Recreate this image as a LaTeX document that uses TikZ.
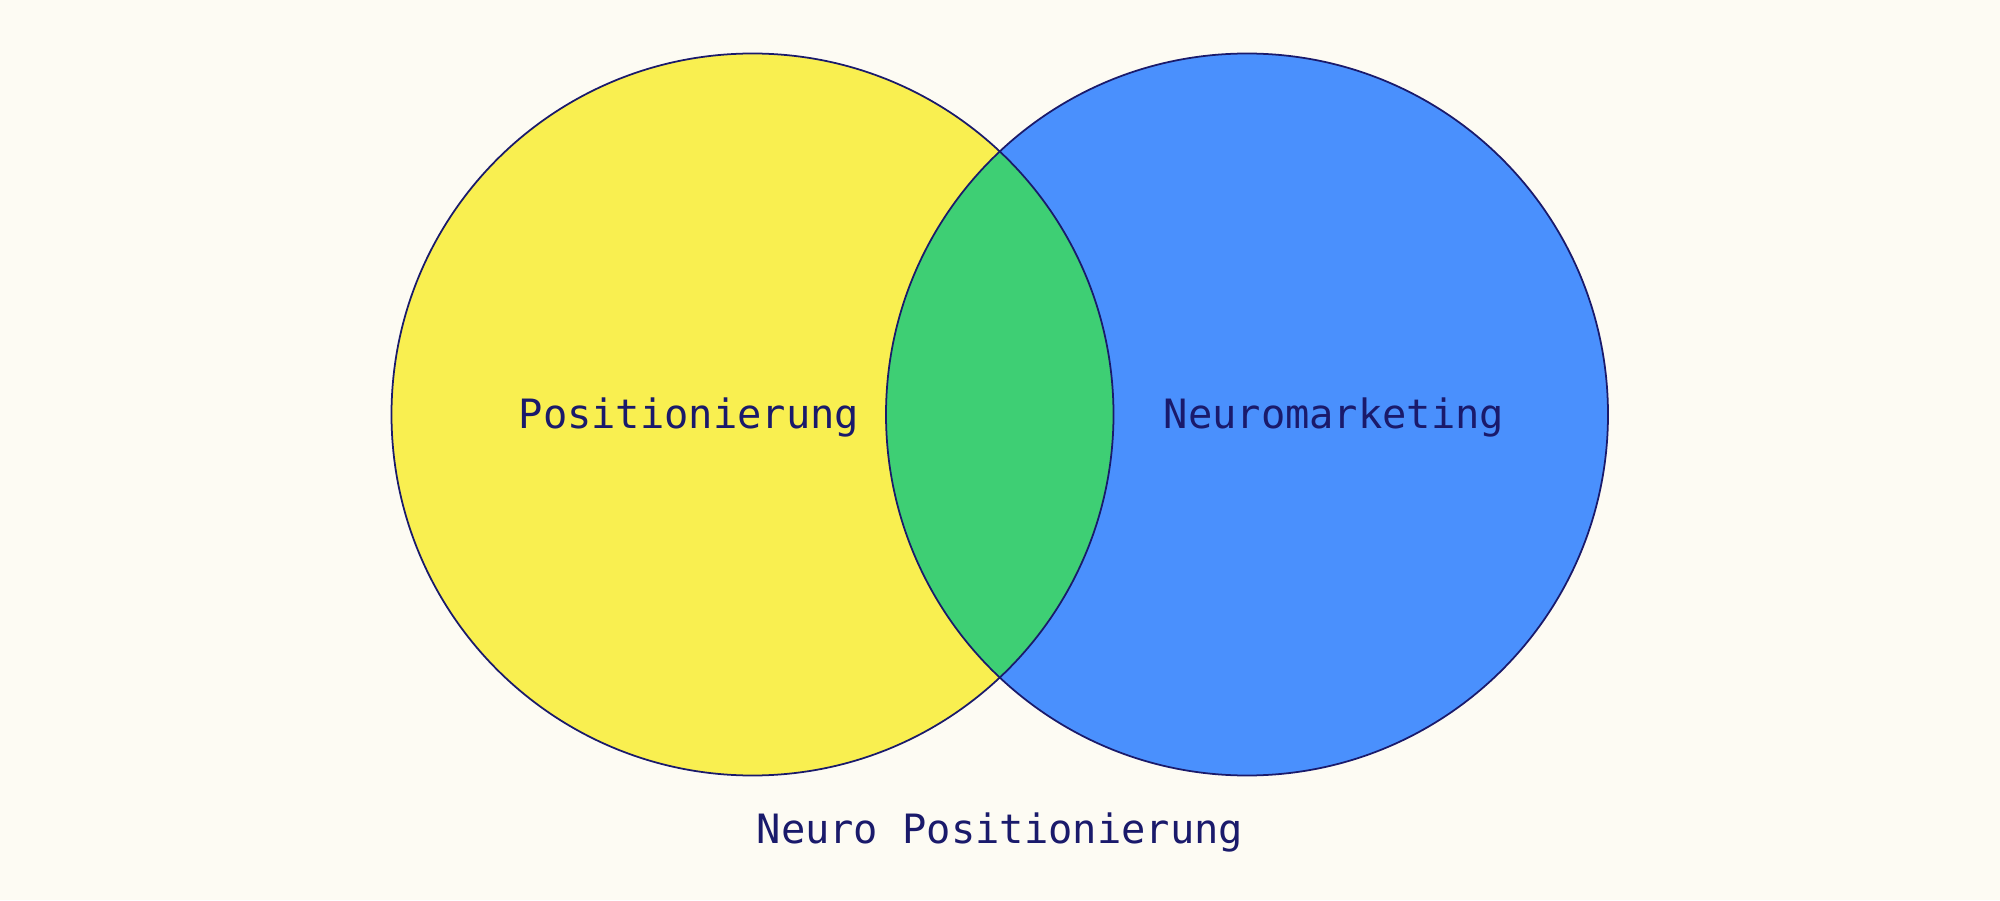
\documentclass[tikz,border=0pt]{standalone}
\usepackage{fontspec}
\setmonofont{DejaVu Sans Mono}
\definecolor{bg}{HTML}{FDFBF3}
\definecolor{yel}{HTML}{F9EF50}
\definecolor{blu}{HTML}{4A90FD}
\definecolor{grn}{HTML}{3ECF74}
\definecolor{ink}{HTML}{1A1A6B}
\begin{document}
\begin{tikzpicture}[
  lbl/.style={text=ink,font=\ttfamily\fontsize{11.5}{14}\selectfont},
  ring/.style={draw=ink,line width=0.5pt}]
\fill[bg] (0,0) rectangle (20,9);
\useasboundingbox (0,0) rectangle (20,9);
\fill[yel] (7.525,4.855) circle (3.61);
\fill[blu] (12.47,4.855) circle (3.61);
\begin{scope}
\clip (7.525,4.855) circle (3.61);
\fill[grn] (12.47,4.855) circle (3.61);
\end{scope}
\draw[ring] (7.525,4.855) circle (3.61);
\draw[ring] (12.47,4.855) circle (3.61);
\node[lbl] (a) at (6.89,4.83) {Positionierung};
\node[lbl] (b) at (13.34,4.83) {Neuromarketing};
\node[lbl] (c) at (10.0,0.68) {Neuro Positionierung};
\end{tikzpicture}
\end{document}
